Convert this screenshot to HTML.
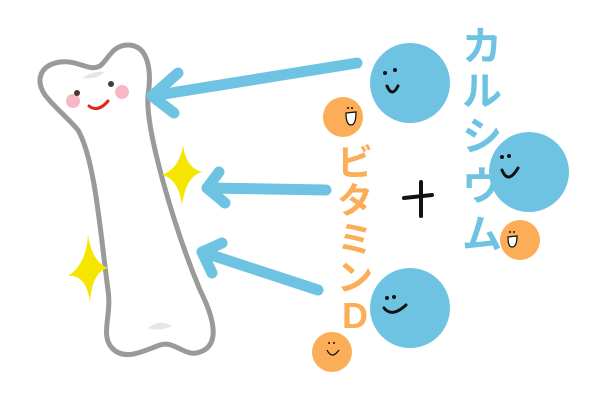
<!DOCTYPE html>
<html><head><meta charset="utf-8"><style>
html,body{margin:0;padding:0;background:#fff;}
svg{display:block}
</style></head><body>
<svg width="600" height="400" viewBox="0 0 600 400" xmlns="http://www.w3.org/2000/svg">
<!-- bone -->
<path d="M45,95 C35,80 40,65 60,62 C80,60 88,72 100,66 C108,60 112,45 128,45 C148,45 152,70 148,95 C145,130 175,230 200,290 C215,320 220,345 200,352 C185,358 175,340 160,345 C145,350 125,362 112,348 C100,335 112,315 108,290 C100,230 95,160 78,130 C65,115 55,108 45,95 Z" fill="#fff" stroke="#9a9a9a" stroke-width="5"/>
<path d="M82,78 Q95,70 104,72 Q98,80 82,78Z" fill="#e6e6e6"/>
<path d="M148,328 Q160,318 172,326 Q160,332 148,328Z" fill="#e6e6e6"/>
<circle cx="73" cy="101" r="7" fill="#f5a6b6" opacity="0.8"/>
<circle cx="122" cy="92" r="7" fill="#f5a6b6" opacity="0.8"/>
<circle cx="77" cy="93" r="3" fill="#4a3a30"/>
<circle cx="111" cy="84" r="3" fill="#4a3a30"/>
<path d="M89,106 Q98,113 108,101" fill="none" stroke="#e0261f" stroke-width="3" stroke-linecap="round"/>
<!-- sparkles -->
<path d="M183,145 Q186,168 202,172 Q186,176 182,205 Q178,178 162,175 Q180,168 183,145Z" fill="#f5e600"/>
<path d="M88,235 Q92,262 108,268 Q92,272 90,302 Q86,274 68,276 Q86,265 88,235Z" fill="#f5e600"/>
<!-- arrows -->
<g fill="none" stroke="#6fc3e2" stroke-width="11" stroke-linecap="round" stroke-linejoin="round">
<path d="M357,63 L152,96"/><path d="M178,73 L152,96 L174,113"/>
<path d="M326,190 L207,188"/><path d="M219,172 L207,188 L225,203"/>
<path d="M318,290 L202,252"/><path d="M222,243 L202,252 L212,273"/>
</g>
<!-- circles -->
<circle cx="410" cy="83" r="40" fill="#6fc3e2"/>
<circle cx="529" cy="172" r="40" fill="#6fc3e2"/>
<circle cx="410" cy="308" r="40" fill="#6fc3e2"/>
<circle cx="343" cy="117" r="20" fill="#fbad58"/>
<circle cx="520" cy="240" r="20" fill="#fbad58"/>
<circle cx="332" cy="352" r="20" fill="#fbad58"/>
<g fill="none" stroke="#111" stroke-width="3" stroke-linecap="round">
<path d="M387,86 Q392,98 398,86"/><path d="M502,170 Q508,185 518,168"/><path d="M384,308 Q392,318 406,305"/>
</g>
<g fill="#111"><circle cx="385" cy="73" r="2"/><circle cx="395" cy="70" r="2"/><circle cx="502" cy="157" r="2"/><circle cx="509" cy="156" r="2"/><circle cx="387" cy="298" r="2"/><circle cx="394" cy="297" r="2"/>
<circle cx="348" cy="108" r="1"/><circle cx="352" cy="108" r="1"/><circle cx="510" cy="232" r="1"/><circle cx="514" cy="232" r="1"/><circle cx="329" cy="343" r="1"/><circle cx="334" cy="343" r="1"/></g>
<g fill="#fff" stroke="#111" stroke-width="1.3"><path d="M346,113 L356,112 Q356,125 351,125 Q346,125 346,113Z"/><path d="M508,237 L517,236 Q517,247 512,247 Q508,247 508,237Z"/><path d="M327,350 Q332,360 339,350" fill="none"/></g>
<!-- text -->
<g font-family="'Liberation Sans','Noto Sans CJK JP',sans-serif" font-size="40" font-weight="bold" fill="#6fc3e2" text-anchor="middle">
<text x="482" y="60">カ</text><text x="482" y="105">ル</text><text x="482" y="150">シ</text><text x="482" y="200">ウ</text><text x="482" y="248">ム</text>
</g>
<g font-family="'Liberation Sans','Noto Sans CJK JP',sans-serif" font-size="36" font-weight="bold" fill="#fbad58" text-anchor="middle">
<text x="355" y="175">ビ</text><text x="355" y="213">タ</text><text x="355" y="252">ミ</text><text x="355" y="290">ン</text><text x="355" y="328">D</text>
</g>
<g stroke="#111" stroke-width="4" stroke-linecap="round"><path d="M404,198 L432,195"/><path d="M421,182 L421,216"/></g>
</svg>
</body></html>
